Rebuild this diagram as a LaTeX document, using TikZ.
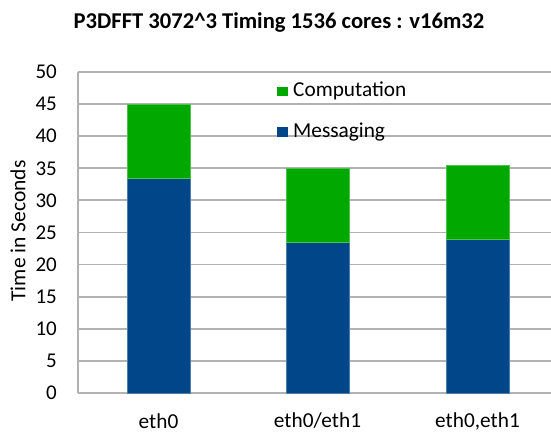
\documentclass[tikz,border=0pt]{standalone}
\usepackage{fontspec}
\setmainfont{Carlito}
\definecolor{chgreen}{RGB}{0,168,0}
\definecolor{chblue}{RGB}{0,70,137}
\definecolor{chgrid}{RGB}{178,178,178}
\usetikzlibrary{positioning}

\begin{document}
\begin{tikzpicture}[x=1pt,y=1pt,
    gridline/.style={line width=1.8pt, chgrid},
    ticklbl/.style={font=\fontsize{21}{25}\selectfont, anchor=east, inner sep=0pt},
    catlbl/.style={font=\fontsize{21.3}{25}\selectfont, inner sep=0pt},
    msgbar/.style={fill=chblue, draw=chblue!70!white, line width=0.6pt},
    compbar/.style={fill=chgreen, draw=chgreen!70!white, line width=0.6pt}]
  \useasboundingbox (0,0) rectangle (551,434);

  %% Title
  \node[font=\fontsize{22.6}{27}\selectfont\bfseries] (title) at (279,412) {P3DFFT 3072\^{}3 Timing 1536 cores : v16m32};

  %% Grid lines and y tick labels (6.42 per second, zero at 41)
  \foreach \v in {0,5,...,50} {
    \draw[gridline] (78,41+6.42*\v) -- (551,41+6.42*\v);
    \node[ticklbl] (tick\v) at (57,41+6.42*\v) {\v};
  }
  \draw[gridline] (78,41) -- (78,362);

  %% Axis title
  \node[font=\fontsize{21.5}{25}\selectfont, rotate=90] (ytitle) at (18,203) {Time in Seconds};

  %% eth0
  \draw[msgbar]  (127,41) rectangle (190,41+6.42*33.4);
  \draw[compbar] (127,41+6.42*33.4) rectangle (190,41+6.42*45);
  \node[catlbl] (cat1) at (158.5,13) {eth0};

  %% eth0/eth1
  \draw[msgbar]  (286,41) rectangle (349,41+6.42*23.4);
  \draw[compbar] (286,41+6.42*23.4) rectangle (349,41+6.42*35);
  \node[catlbl] (cat2) at (317.5,13) {eth0/eth1};

  %% eth0,eth1
  \draw[msgbar]  (446,41) rectangle (509,41+6.42*23.9);
  \draw[compbar] (446,41+6.42*23.9) rectangle (509,41+6.42*35.5);
  \node[catlbl] (cat3) at (477.5,13) {eth0,eth1};

  %% Legend
  \fill[chgreen] (277,338) rectangle (288,347);
  \node[catlbl, anchor=west] (legcomp) at (293,343) {Computation};
  \fill[chblue] (277,297) rectangle (288,307);
  \node[catlbl, anchor=west] (legmsg) at (293,302) {Messaging};
\end{tikzpicture}
\end{document}
